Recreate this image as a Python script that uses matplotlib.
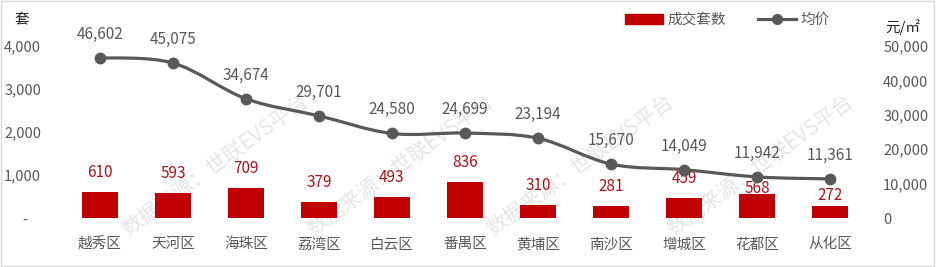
import matplotlib

matplotlib.use("Agg")
import matplotlib.pyplot as plt
import numpy as np
from matplotlib.patches import Rectangle, PathPatch
from matplotlib.path import Path
from matplotlib.lines import Line2D
from matplotlib.ticker import FuncFormatter

plt.rcParams["font.family"] = ["Noto Sans CJK SC", "DejaVu Sans"]

districts = ["越秀区", "天河区", "海珠区", "荔湾区", "白云区", "番禺区",
             "黄埔区", "南沙区", "增城区", "花都区", "从化区"]
deals = [610, 593, 709, 379, 493, 836, 310, 281, 459, 568, 272]
prices = [46602, 45075, 34674, 29701, 24580, 24699, 23194, 15670, 14049, 11942, 11361]

# label offsets above bar tops (points); two labels were nudged in the original
bar_label_offsets = [14, 14, 14, 14, 14, 14, 14, 14, 14, 4, 8]

BAR = "#C00000"
BAR_TEXT = "#A8141C"
LINE = "#595959"
TEXT = "#595959"

fig = plt.figure(figsize=(9.36, 2.67), dpi=100)
ax = fig.add_axes([0.0678, 0.1835, 0.858, 0.7245])
ax.set_facecolor("none")
ax2 = ax.twinx()
ax2.set_facecolor("none")

# watermark, behind everything
for cx, cy in [(215, 165), (400, 165), (580, 165), (760, 165)]:
    fig.text(cx / 936, 1 - cy / 267, "数据来源：世联EVS平台", rotation=36,
             ha="center", va="center", fontsize=15, color="#e6e6e6", zorder=-5)

x = np.arange(len(districts))
ax.bar(x, deals, width=0.5, color=BAR, zorder=2)
for xi, v, off in zip(x, deals, bar_label_offsets):
    ax.annotate(f"{v:,}", (xi, v), xytext=(0, off), textcoords="offset points",
                ha="center", va="center", fontsize=11, color=BAR_TEXT, zorder=5)

ax.set_xlim(-0.5, len(districts) - 0.5)
ax.set_ylim(0, 4500)
ax.set_yticks([0, 1000, 2000, 3000, 4000])
ax.yaxis.set_major_formatter(FuncFormatter(lambda v, p: "-    " if v == 0 else f"{v:,.0f}"))
ax.set_xticks(x)
ax.set_xticklabels(districts)

ax2.set_ylim(0, 4500 * 12.5)
ax2.set_yticks([0, 10000, 20000, 30000, 40000, 50000])
ax2.yaxis.set_major_formatter(FuncFormatter(lambda v, p: f"{v:,.0f}"))

# smoothed price line (Bezier through the points, Excel-style)
pts = np.column_stack([x, prices]).astype(float)
verts = [tuple(pts[0])]
codes = [Path.MOVETO]
n = len(pts)
for i in range(n - 1):
    p0 = pts[max(i - 1, 0)]
    p1 = pts[i]
    p2 = pts[i + 1]
    p3 = pts[min(i + 2, n - 1)]
    c1 = p1 + (p2 - p0) / 6
    c2 = p2 - (p3 - p1) / 6
    verts += [tuple(c1), tuple(c2), tuple(p2)]
    codes += [Path.CURVE4] * 3
ax2.add_patch(PathPatch(Path(verts, codes), facecolor="none", edgecolor=LINE,
                        lw=2.3, zorder=3, capstyle="round"))
ax2.plot(x, prices, linestyle="none", marker="o", ms=7.5, color=LINE, zorder=4)
for xi, v in zip(x, prices):
    ax2.annotate(f"{v:,}", (xi, v), xytext=(0, 17), textcoords="offset points",
                 ha="center", va="center", fontsize=11, color=TEXT, zorder=5)

for a in (ax, ax2):
    for s in a.spines.values():
        s.set_visible(False)
    a.tick_params(length=0, labelsize=10.5, labelcolor=TEXT)
ax.tick_params(axis="y", pad=16)
ax.tick_params(axis="x", pad=14)
ax2.tick_params(axis="y", pad=12)

fig.text(22 / 936, 1 - 20 / 267, "套", ha="center", va="center", fontsize=10.5, color="#262626")
fig.text(903 / 936, 1 - 27 / 267, "元/㎡", ha="center", va="center", fontsize=10.5, color="#262626")

handles = [Rectangle((0, 0), 1, 1, color=BAR),
           Line2D([], [], color=LINE, lw=2.3, marker="o", ms=7)]
fig.legend(handles, ["成交套数", "均价"], loc="center", bbox_to_anchor=(0.777, 0.925),
           ncol=2, frameon=False, fontsize=10.5, handlelength=2.6, handleheight=0.6,
           columnspacing=2.2, handletextpad=0.3, labelcolor=TEXT)

fig.patches.append(Rectangle((0.001, 0.002), 0.997, 0.994, transform=fig.transFigure,
                             fill=False, edgecolor="#d9d9d9", lw=1))

fig.savefig("out.png", dpi=100)
